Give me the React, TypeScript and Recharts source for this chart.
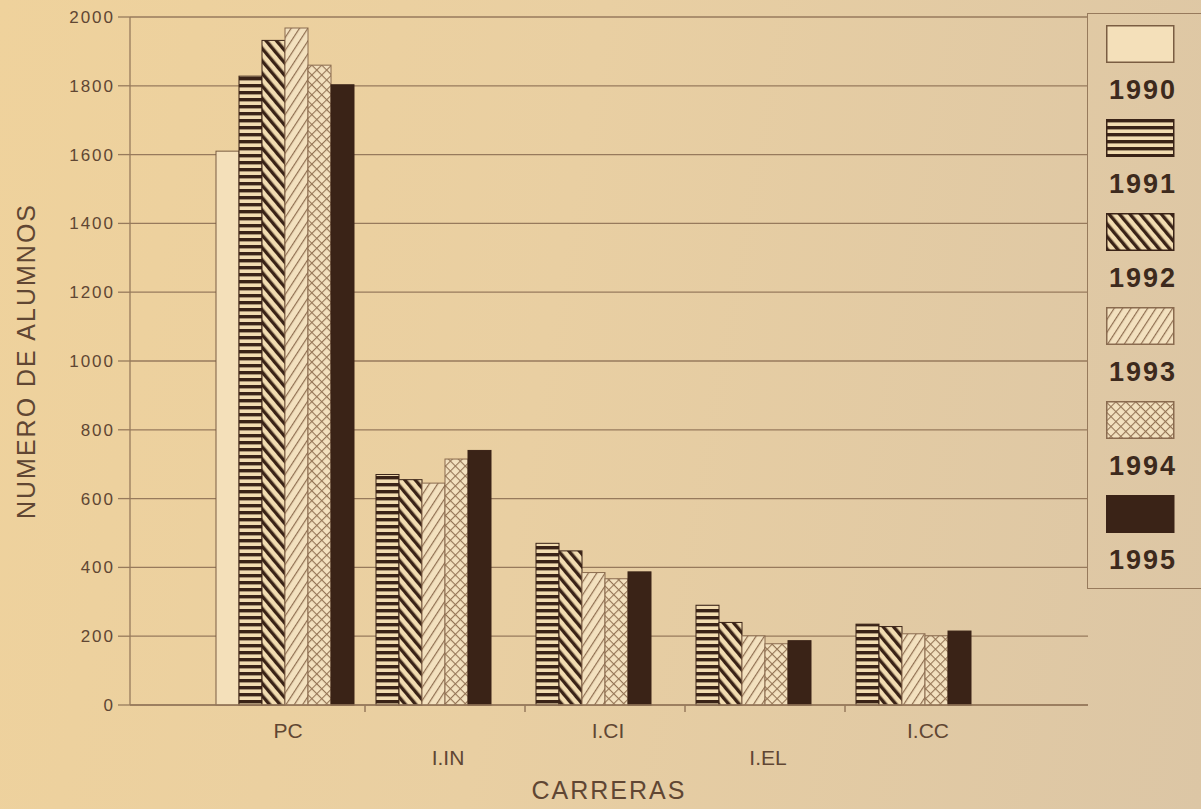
import React from "react";
import { BarChart, Bar, XAxis, YAxis, CartesianGrid, Legend, Label } from "recharts";

// Students per career and year
const careers = ["PC", "I.IN", "I.CI", "I.EL", "I.CC"];
const years = ["1990", "1991", "1992", "1993", "1994", "1995"];
const alumnos1990 = [1610, null, null, null, null];
const alumnos1991 = [1828, 670, 470, 290, 235];
const alumnos1992 = [1932, 655, 448, 240, 228];
const alumnos1993 = [1968, 645, 385, 201, 207];
const alumnos1994 = [1860, 715, 367, 178, 201];
const alumnos1995 = [1803, 740, 387, 187, 215];
const yTicks = [0, 200, 400, 600, 800, 1000, 1200, 1400, 1600, 1800, 2000];

const series = [alumnos1990, alumnos1991, alumnos1992, alumnos1993, alumnos1994, alumnos1995];
const data = careers.map((career, i) => {
  const row: Record<string, string | number | null> = { career };
  years.forEach((year, s) => {
    row["y" + year] = series[s][i];
  });
  return row;
});

const CHART_W = 1201;
const CHART_H = 809;
const MARGIN = { top: 17, right: 113, bottom: 44, left: 0 };
const Y_AXIS_W = 130;
const X_PAD = { left: 75, right: 83 };
const HALF_BAND =
  (CHART_W - MARGIN.left - MARGIN.right - Y_AXIS_W - X_PAD.left - X_PAD.right) / careers.length / 2;

const INK = "#3a2317";
const GRID = "#977a5c";
const TEXT = "#604633";
const PAPER = "#f2dcb1";
const PALE = "#f3e1bf";

const outlines: Record<string, string> = {
  "1990": "#7a5d42",
  "1991": INK,
  "1992": INK,
  "1993": "#8a6b4f",
  "1994": "#8a6b4f",
  "1995": INK,
};

function Patterns({ prefix }: { prefix: string }) {
  return (
    <defs>
      <pattern id={`${prefix}-1990`} width="4" height="4" patternUnits="userSpaceOnUse">
        <rect width="4" height="4" fill="#f4e0ba" />
      </pattern>
      <pattern id={`${prefix}-1991`} width="7" height="7" patternUnits="userSpaceOnUse">
        <rect width="7" height="7" fill={PAPER} />
        <rect width="7" height="3.4" fill={INK} />
      </pattern>
      <pattern
        id={`${prefix}-1992`}
        width="8"
        height="8"
        patternUnits="userSpaceOnUse"
        patternTransform="rotate(-40)"
      >
        <rect width="8" height="8" fill={PAPER} />
        <rect width="3.4" height="8" fill={INK} />
      </pattern>
      <pattern
        id={`${prefix}-1993`}
        width="7"
        height="7"
        patternUnits="userSpaceOnUse"
        patternTransform="rotate(33)"
      >
        <rect width="7" height="7" fill={PALE} />
        <rect width="1.2" height="7" fill="#8f6e50" />
      </pattern>
      <pattern
        id={`${prefix}-1994`}
        width="7"
        height="7"
        patternUnits="userSpaceOnUse"
        patternTransform="rotate(45)"
      >
        <rect width="7" height="7" fill={PALE} />
        <rect width="1.1" height="7" fill="#957556" />
        <rect width="7" height="1.1" fill="#957556" />
      </pattern>
      <pattern id={`${prefix}-1995`} width="4" height="4" patternUnits="userSpaceOnUse">
        <rect width="4" height="4" fill={INK} />
      </pattern>
    </defs>
  );
}

// Careers without a 1990 value close up: their bars move one slot left
function makeShape(key: string, stroke: string) {
  return (props: any) => {
    const { x, y, width, height, fill, payload } = props;
    if (payload == null || payload[key] == null || !height) return <g />;
    const shift = key !== "y1990" && payload.y1990 == null ? width : 0;
    return (
      <rect
        x={x - shift}
        y={y}
        width={width}
        height={height}
        fill={fill}
        stroke={stroke}
        strokeWidth={1}
      />
    );
  };
}

function CareerTick(props: any) {
  const { x, y, payload, index } = props;
  const lower = index % 2 === 1;
  return (
    <g>
      {index > 0 ? (
        <line
          x1={x - HALF_BAND}
          x2={x - HALF_BAND}
          y1={y}
          y2={y + 7}
          stroke={GRID}
          strokeWidth={1.5}
        />
      ) : null}
      <text
        x={x + 3}
        y={y + (lower ? 52 : 25)}
        textAnchor="middle"
        dominantBaseline="central"
        fontSize={21}
        fill={TEXT}
      >
        {payload.value}
      </text>
    </g>
  );
}

function LegendBox(props: any) {
  const payload: any[] = props.payload ?? [];
  return (
    <div
      style={{
        boxSizing: "border-box",
        width: 140,
        height: 576,
        border: `1.5px solid ${GRID}`,
        padding: "11px 0 0 18px",
      }}
    >
      {payload.map((entry) => {
        const year = String(entry.value);
        const prefix = `lg${year}`;
        return (
          <div key={year} style={{ height: 94 }}>
            <svg width={69} height={38} style={{ display: "block" }}>
              <Patterns prefix={prefix} />
              <rect
                x={0.75}
                y={0.75}
                width={67}
                height={36.5}
                fill={`url(#${prefix}-${year})`}
                stroke={outlines[year]}
                strokeWidth={1.5}
              />
            </svg>
            <div
              style={{
                fontSize: 27,
                fontWeight: 700,
                lineHeight: "30px",
                marginTop: 12,
                marginLeft: 3,
                letterSpacing: 2,
                color: "#3d2a1d",
              }}
            >
              {year}
            </div>
          </div>
        );
      })}
    </div>
  );
}

export default function App() {
  return (
    <div
      style={{
        position: "absolute",
        left: 0,
        top: 0,
        width: CHART_W,
        height: CHART_H,
        overflow: "hidden",
        background: "linear-gradient(100deg, #efd29c 0%, #e9cfa2 45%, #dcc6a5 100%)",
        fontFamily: "'Liberation Sans', Arial, sans-serif",
      }}
    >
      <BarChart width={CHART_W} height={CHART_H} data={data} margin={MARGIN} barGap={0}>
        <Patterns prefix="bar" />
        <CartesianGrid vertical={false} stroke={GRID} strokeWidth={1.3} />
        <XAxis
          dataKey="career"
          padding={X_PAD}
          interval={0}
          tickLine={false}
          tickSize={0}
          tickMargin={0}
          height={60}
          axisLine={{ stroke: GRID, strokeWidth: 1.6 }}
          tick={<CareerTick />}
        >
          <Label
            content={(p: any) => (
              <text
                x={p.viewBox.x + p.viewBox.width / 2}
                y={p.viewBox.y + 85}
                textAnchor="middle"
                dominantBaseline="central"
                fontSize={25}
                letterSpacing={2}
                fill={TEXT}
              >
                CARRERAS
              </text>
            )}
          />
        </XAxis>
        <YAxis
          width={Y_AXIS_W}
          domain={[0, 2000]}
          ticks={yTicks}
          interval={0}
          tickSize={12}
          tickMargin={3}
          tickLine={{ stroke: GRID, strokeWidth: 1.3 }}
          axisLine={{ stroke: GRID, strokeWidth: 1.3 }}
          tick={{ fill: TEXT, fontSize: 17, letterSpacing: 2 }}
        >
          <Label
            content={(p: any) => {
              const cx = p.viewBox.x + 26;
              const cy = p.viewBox.y + p.viewBox.height / 2;
              return (
                <text
                  x={cx}
                  y={cy}
                  transform={`rotate(-90, ${cx}, ${cy})`}
                  textAnchor="middle"
                  dominantBaseline="central"
                  fontSize={25}
                  letterSpacing={2}
                  fill={TEXT}
                >
                  NUMERO DE ALUMNOS
                </text>
              );
            }}
          />
        </YAxis>
        <YAxis
          yAxisId="frame"
          orientation="right"
          width={0}
          domain={[0, 2000]}
          ticks={yTicks}
          tick={false}
          tickLine={false}
          axisLine={{ stroke: GRID, strokeWidth: 1.3 }}
        />
        <Legend
          layout="horizontal"
          verticalAlign="middle"
          align="center"
          content={<LegendBox />}
          wrapperStyle={{ left: 1087, top: 13, width: 140, height: 576 }}
        />
        {years.map((year) => (
          <Bar
            key={year}
            dataKey={"y" + year}
            name={year}
            barSize={23}
            fill={`url(#bar-${year})`}
            stroke={outlines[year]}
            shape={makeShape("y" + year, outlines[year])}
            isAnimationActive={false}
          />
        ))}
      </BarChart>
    </div>
  );
}
